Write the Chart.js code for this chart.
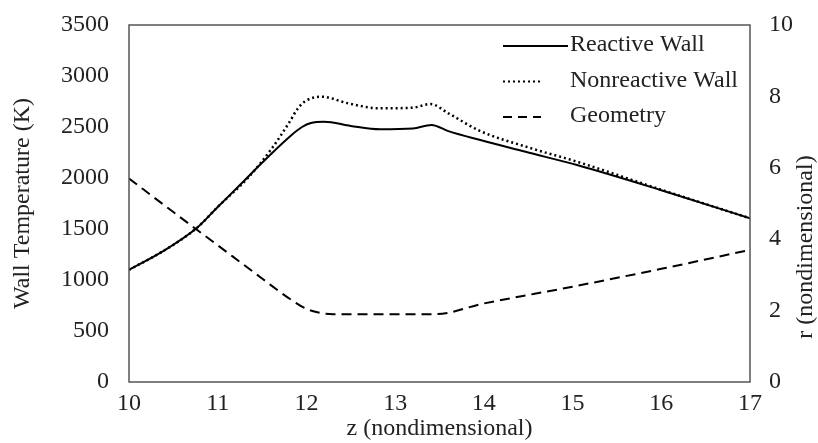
<!DOCTYPE html>
<html>
<head>
<meta charset="utf-8">
<script src="https://cdn.jsdelivr.net/npm/chart.js@4"></script>
<style>
  html, body { margin: 0; padding: 0; background: #fff; }
  #wrap { width: 818px; height: 443px; }
</style>
</head>
<body>
<div id="wrap"><canvas id="chart" width="818" height="443"></canvas></div>
<script>
// wall temperature vs z
const Z_REACTIVE = [10, 10.375, 10.76, 11, 11.27, 11.5, 11.83, 11.95, 12.05, 12.2, 12.5, 12.83, 13.2, 13.41, 13.6, 13.96, 14.5, 15.05, 16, 17];
const REACTIVE = [1100, 1278, 1507, 1716, 1948, 2150, 2420, 2500, 2540, 2552, 2510, 2477, 2485, 2520, 2460, 2372, 2250, 2127, 1880, 1605];

const Z_NONREACTIVE = [10, 10.375, 10.76, 11, 11.35, 11.61, 11.8, 11.91, 12.0, 12.17, 12.47, 12.83, 13.2, 13.4, 13.6, 13.96, 14.5, 15.05, 16, 17];
const NONREACTIVE = [1100, 1278, 1507, 1716, 2010, 2290, 2536, 2690, 2760, 2797, 2732, 2683, 2690, 2725, 2634, 2460, 2300, 2160, 1885, 1605];

// nozzle geometry, radius on right axis
const Z_GEOM = [10, 10.5, 11, 11.5, 11.8, 12.0, 12.15, 12.3, 12.8, 13.45, 14, 15, 16, 17];
const RADIUS = [5.7, 4.76, 3.83, 2.9, 2.35, 2.05, 1.94, 1.9, 1.9, 1.9, 2.2, 2.67, 3.17, 3.7];

const X_TICKS = [10, 11, 12, 13, 14, 15, 16, 17];

const FONT = { family: '"Liberation Serif", "Times New Roman", serif', size: 24 };
const TEXT = '#222';

function pts(xs, ys) {
  return xs.map((x, i) => ({ x, y: ys[i] }));
}

const frame = {
  id: 'frame',
  afterDatasetsDraw(chart) {
    const { ctx, chartArea: a } = chart;
    ctx.save();
    ctx.strokeStyle = '#555';
    ctx.lineWidth = 1.5;
    ctx.strokeRect(a.left, a.top, a.right - a.left, a.bottom - a.top);
    ctx.restore();
  }
};

// right title reads bottom-to-top like the left one
const rightTitle = {
  id: 'rightTitle',
  afterDraw(chart) {
    const { ctx } = chart;
    ctx.save();
    ctx.font = `${FONT.size}px ${FONT.family}`;
    ctx.fillStyle = TEXT;
    ctx.textAlign = 'center';
    ctx.textBaseline = 'middle';
    ctx.translate(chart.width - 12, 247);
    ctx.rotate(-Math.PI / 2);
    ctx.fillText('r (nondimensional)', 0, 0);
    ctx.restore();
  }
};

// legend sits inside plot, top right, no box
const insideLegend = {
  id: 'insideLegend',
  afterDraw(chart) {
    const { ctx, chartArea: a } = chart;
    const items = [
      { label: 'Reactive Wall', dash: [], len: 65 },
      { label: 'Nonreactive Wall', dash: [2, 3], len: 38 },
      { label: 'Geometry', dash: [9, 6], len: 38 }
    ];
    const x0 = a.right - 247;
    ctx.save();
    ctx.font = `${FONT.size}px ${FONT.family}`;
    ctx.textBaseline = 'middle';
    ctx.fillStyle = TEXT;
    items.forEach((it, i) => {
      const y = a.top + 21 + i * 35.5;
      ctx.strokeStyle = '#000';
      ctx.lineWidth = 2;
      ctx.setLineDash(it.dash);
      ctx.beginPath();
      ctx.moveTo(x0, y);
      ctx.lineTo(x0 + it.len, y);
      ctx.stroke();
      ctx.fillText(it.label, x0 + 67, y - 1);
    });
    ctx.restore();
  }
};

function noPadV(axis, w) {
  axis.width = w;
  axis.paddingTop = 0;
  axis.paddingBottom = 0;
}

new Chart(document.getElementById('chart'), {
  type: 'line',
  data: {
    datasets: [
      {
        label: 'Reactive Wall',
        data: pts(Z_REACTIVE, REACTIVE),
        yAxisID: 'y',
        borderColor: '#000',
        borderWidth: 2,
        pointRadius: 0,
        cubicInterpolationMode: 'monotone'
      },
      {
        label: 'Nonreactive Wall',
        data: pts(Z_NONREACTIVE, NONREACTIVE),
        yAxisID: 'y',
        borderColor: '#000',
        borderWidth: 2.5,
        borderDash: [2, 3],
        pointRadius: 0,
        cubicInterpolationMode: 'monotone'
      },
      {
        label: 'Geometry',
        data: pts(Z_GEOM, RADIUS),
        yAxisID: 'y2',
        borderColor: '#000',
        borderWidth: 2,
        borderDash: [10, 6],
        pointRadius: 0,
        cubicInterpolationMode: 'monotone'
      }
    ]
  },
  options: {
    responsive: false,
    animation: false,
    layout: { padding: { top: 25, left: 0, right: 0, bottom: 0 } },
    plugins: { legend: { display: false }, tooltip: { enabled: false } },
    scales: {
      x: {
        type: 'linear',
        min: 10,
        max: 17,
        afterBuildTicks: (axis) => { axis.ticks = X_TICKS.map((v) => ({ value: v })); },
        grid: { display: false, drawTicks: false },
        border: { display: false },
        ticks: { color: TEXT, font: FONT, padding: 7, callback: (v) => String(v) },
        title: { display: true, text: 'z (nondimensional)', color: TEXT, font: FONT, padding: { top: -10, bottom: 0 } },
        afterFit: (axis) => { axis.height = 61; axis.paddingLeft = 0; axis.paddingRight = 0; }
      },
      y: {
        position: 'left',
        min: 0,
        max: 3500,
        ticks: { stepSize: 500, color: TEXT, font: FONT, padding: 20, callback: (v) => String(v) },
        grid: { display: false, drawTicks: false },
        border: { display: false },
        title: { display: true, text: 'Wall Temperature (K)', color: TEXT, font: FONT, padding: { top: 8, bottom: 0 } },
        afterFit: (axis) => noPadV(axis, 129)
      },
      y2: {
        position: 'right',
        min: 0,
        max: 10,
        ticks: { stepSize: 2, color: TEXT, font: FONT, padding: 19, callback: (v) => String(v) },
        grid: { display: false, drawTicks: false },
        border: { display: false },
        afterFit: (axis) => noPadV(axis, 68)
      }
    }
  },
  plugins: [frame, insideLegend, rightTitle]
});
</script>
</body>
</html>
